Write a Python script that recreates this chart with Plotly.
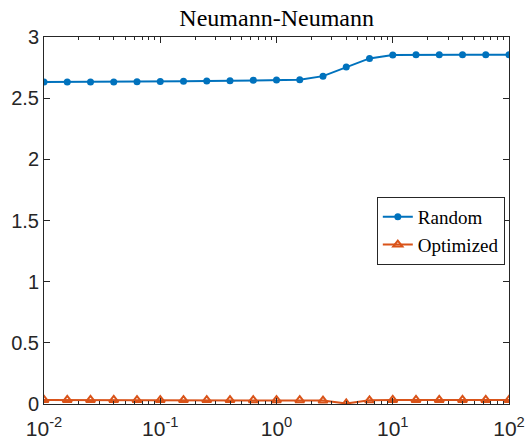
import numpy as np
import plotly.graph_objects as go

x_vals = [0.01, 0.01585, 0.02512, 0.03981, 0.0631, 0.1, 0.1585, 0.2512, 0.3981, 0.631,
          1.0, 1.585, 2.512, 3.981, 6.31, 10.0, 15.85, 25.12, 39.81, 63.1, 100.0]
random_vals = [2.632, 2.632, 2.632, 2.633, 2.634, 2.636, 2.638, 2.640, 2.643, 2.646,
               2.648, 2.650, 2.680, 2.755, 2.825, 2.852, 2.855, 2.855, 2.855, 2.855, 2.855]
optimized_vals = [0.033, 0.033, 0.033, 0.033, 0.032, 0.032, 0.032, 0.032, 0.032, 0.031,
                  0.031, 0.031, 0.028, 0.004, 0.030, 0.033, 0.033, 0.033, 0.033, 0.033, 0.033]
x_tick_vals = [0.01, 0.1, 1, 10, 100]
x_tick_text = ["10<sup>-2</sup>", "10<sup>-1</sup>", "10<sup>0</sup>", "10<sup>1</sup>", "10<sup>2</sup>"]
x_minor_vals = [m * d for d in [0.01, 0.1, 1, 10] for m in range(2, 10)]

fig = go.Figure()
fig.add_trace(go.Scatter(x=x_vals, y=random_vals, name="Random", mode="lines+markers",
                         line=dict(color="#0072BD", width=2),
                         marker=dict(symbol="circle", size=7, color="#0072BD")))
fig.add_trace(go.Scatter(x=x_vals, y=optimized_vals, name="Optimized", mode="lines+markers",
                         line=dict(color="#D95319", width=2),
                         marker=dict(symbol="triangle-up-open", size=8, color="#D95319",
                                     line=dict(width=2, color="#D95319"))))

axis_common = dict(showline=True, linecolor="#262626", linewidth=1, mirror="ticks",
                   ticks="inside", tickcolor="#262626", showgrid=False, zeroline=False,
                   automargin=False)

fig.update_layout(
    width=527, height=441,
    paper_bgcolor="white", plot_bgcolor="white",
    margin=dict(l=44, r=18, t=37, b=37, autoexpand=False),
    title=dict(text="Neumann-Neumann", x=0.525, xanchor="center", y=0.96, yanchor="middle",
               font=dict(family="Liberation Serif, Times New Roman", size=24, color="black")),
    showlegend=True,
    legend=dict(x=0.991, y=0.564, xanchor="right", yanchor="top",
                bgcolor="white", bordercolor="#262626", borderwidth=1,
                font=dict(family="Liberation Serif, Times New Roman", size=19, color="black"),
                tracegroupgap=0, itemwidth=30),
    xaxis=dict(type="log", range=[-2, 2], tickmode="array", tickvals=x_tick_vals,
               ticktext=x_tick_text, ticklen=6, ticklabelstandoff=6,
               tickfont=dict(family="Liberation Sans, Arial", size=21, color="#262626"),
               minor=dict(tickmode="array", tickvals=x_minor_vals, ticks="inside",
                          ticklen=3, tickcolor="#262626", showgrid=False),
               **axis_common),
    yaxis=dict(range=[0, 3], dtick=0.5, ticklen=6,
               tickfont=dict(family="Liberation Sans, Arial", size=20, color="#262626"),
               **axis_common),
)

fig.write_html("out.html", config={"displayModeBar": False},
               post_script="document.body.style.margin='0';document.body.style.overflow='hidden';")
